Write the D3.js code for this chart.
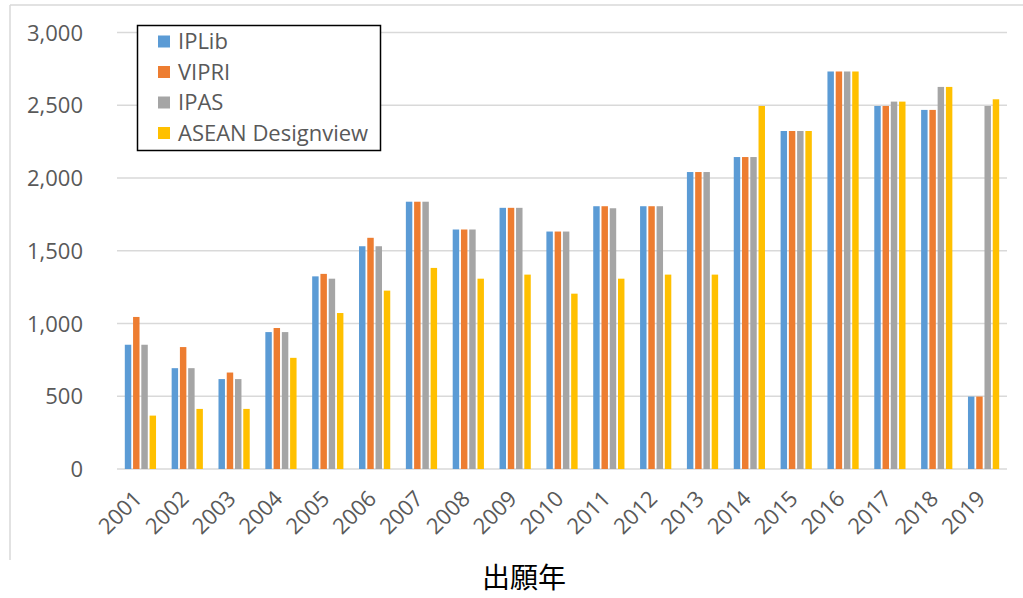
<!DOCTYPE html>
<html><head><meta charset="utf-8">
<script src="https://cdn.jsdelivr.net/npm/d3@7"></script>
<style>
html,body{margin:0;padding:0;background:#fff;}
svg{display:block;}
</style></head>
<body>
<svg id="chart" width="1023" height="598"></svg>
<script>
const years = ["2001","2002","2003","2004","2005","2006","2007","2008","2009","2010","2011","2012","2013","2014","2015","2016","2017","2018","2019"];
const seriesNames = ["IPLib","VIPRI","IPAS","ASEAN Designview"];
const seriesColors = ["#5B9BD5","#ED7D31","#A5A5A5","#FFC000"];
const iplib  = [854,693,618,941,1324,1531,1837,1646,1795,1632,1806,1806,2041,2144,2323,2732,2495,2468,498];
const vipri  = [1045,838,663,969,1341,1589,1837,1646,1795,1632,1806,1806,2041,2144,2323,2732,2495,2468,498];
const ipas   = [854,693,618,941,1308,1531,1837,1646,1795,1632,1792,1806,2041,2144,2323,2732,2525,2626,2495];
const asean  = [367,413,413,764,1072,1226,1382,1308,1336,1205,1308,1336,1336,2495,2323,2732,2525,2626,2541];
const yTicks = [0,500,1000,1500,2000,2500,3000];
const xTitle = "出願年";

const seriesValues = [iplib, vipri, ipas, asean];
const FONT = "'Open Sans', 'Liberation Sans', sans-serif";
const FS = 22;

const svg = d3.select("#chart");

// outer frame (top & left edges visible)
svg.append("line").attr("x1",10).attr("x2",1023).attr("y1",5).attr("y2",5).attr("stroke","#d9d9d9").attr("stroke-width",1.5);
svg.append("line").attr("x1",10).attr("x2",10).attr("y1",5).attr("y2",560).attr("stroke","#d9d9d9").attr("stroke-width",1.5);

const plot = {left:117, right:1007, top:32.5, bottom:469};

const x = d3.scaleBand().domain(years).range([plot.left, plot.right]).paddingInner(0.295).paddingOuter(0.1475);
const xs = d3.scaleBand().domain(seriesNames).range([0, x.bandwidth()]);
const y = d3.scaleLinear().domain([0,3000]).range([plot.bottom, plot.top]);

// gridlines
svg.append("g").selectAll("line").data(yTicks).join("line")
  .attr("x1", plot.left).attr("x2", plot.right)
  .attr("y1", d=>y(d)).attr("y2", d=>y(d))
  .attr("stroke", "#d9d9d9").attr("stroke-width", 1.3);

// y axis labels
const yAxis = d3.axisLeft(y).tickValues(yTicks).tickFormat(d3.format(",")).tickSize(0).tickPadding(0);
const gy = svg.append("g").attr("transform", `translate(${83},0)`).call(yAxis);
gy.select(".domain").remove();
gy.selectAll("text").attr("font-family", FONT).attr("font-size", FS).attr("fill", "#595959").attr("dy","0.35em");

// bars
const rows = [];
years.forEach((yr,i)=>seriesNames.forEach((s,j)=>rows.push({year:yr, series:s, value:seriesValues[j][i], color:seriesColors[j]})));
const gap = 1.8;
svg.append("g").selectAll("rect").data(rows).join("rect")
  .attr("x", d=>x(d.year)+xs(d.series)+gap/2)
  .attr("width", xs.bandwidth()-gap)
  .attr("y", d=>y(d.value))
  .attr("height", d=>y(0)-y(d.value))
  .attr("fill", d=>d.color);

// x axis labels
const xAxis = d3.axisBottom(x).tickSize(0).tickPadding(0);
const gx = svg.append("g").attr("transform", `translate(0,${500})`).call(xAxis);
gx.select(".domain").remove();
gx.selectAll("text")
  .attr("font-family", FONT).attr("font-size", FS).attr("fill", "#595959")
  .attr("text-anchor","end").attr("dy","0").attr("y",0)
  .attr("transform","translate(3,0) rotate(-45)");

// x axis title
svg.append("text").attr("x", 524).attr("y", 588).attr("text-anchor","middle")
  .attr("font-family","'Noto Sans CJK JP', sans-serif").attr("font-size", 28).attr("fill","#000")
  .text(xTitle);

// legend
const lg = svg.append("g");
lg.append("rect").attr("x",137.5).attr("y",25.5).attr("width",243).attr("height",125)
  .attr("fill","#fff").attr("stroke","#000").attr("stroke-width",1.5);
const item = lg.selectAll("g.item").data(seriesNames).join("g").attr("class","item")
  .attr("transform",(d,i)=>`translate(158,${41.5 + i*30.5})`);
item.append("rect").attr("x",0).attr("y",-6).attr("width",12).attr("height",12)
  .attr("fill",(d,i)=>seriesColors[i]);
item.append("text").attr("x",20).attr("y",0).attr("dy","0.35em")
  .attr("font-family",FONT).attr("font-size",FS).attr("fill","#595959").text(d=>d);
</script>
</body></html>
